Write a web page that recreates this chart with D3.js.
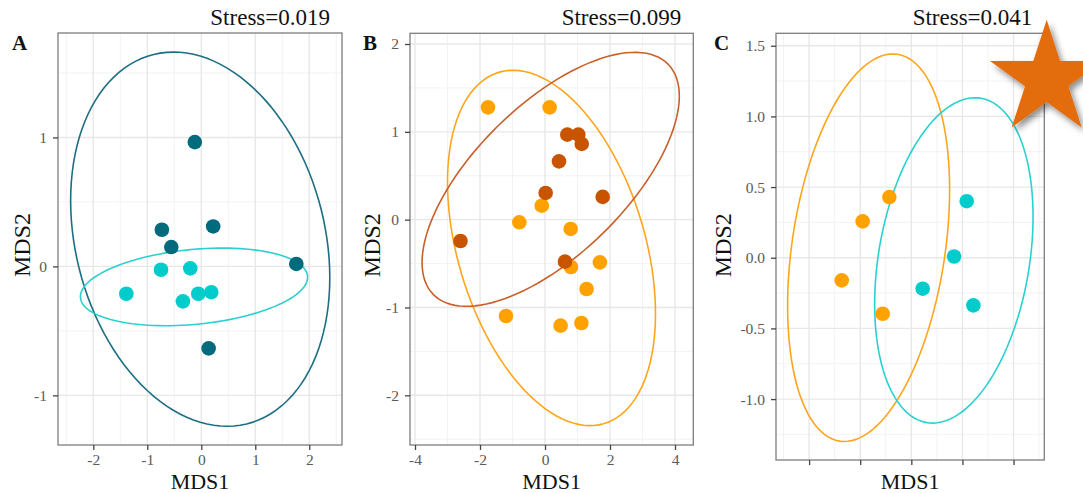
<!DOCTYPE html>
<html><head><meta charset="utf-8">
<script src="https://cdn.jsdelivr.net/npm/d3@7"></script>
<style>
html,body{margin:0;padding:0;background:#fff;}
svg{display:block;}
</style></head>
<body>
<svg id="chart" width="1083" height="493"></svg>
<script>
// ---------------- DATA ----------------
// Panel A (two groups)
const aDarkX = [-0.12, -0.73, 0.22, -0.556, 1.76, 0.136];
const aDarkY = [0.964, 0.284, 0.31, 0.15, 0.019, -0.636];
const aCyanX = [-0.746, -0.204, -1.389, -0.34, -0.056, 0.185];
const aCyanY = [-0.026, -0.015, -0.212, -0.271, -0.212, -0.20];
// Panel B
const bLightX = [-1.754, 0.144, -0.10, -0.79, 0.79, 0.80, 1.69, 1.28, -1.20, 0.48, 1.12];
const bLightY = [1.279, 1.279, 0.159, -0.03, -0.106, -0.539, -0.486, -0.79, -1.097, -1.207, -1.177];
const bDarkX = [0.687, 1.026, 1.13, 0.43, 0.02, 1.775, -2.60, 0.615];
const bDarkY = [0.968, 0.968, 0.862, 0.664, 0.304, 0.259, -0.243, -0.478];
// Panel C
const cOrangeX = [-0.215, -0.476, -0.681, -0.28];
const cOrangeY = [0.429, 0.257, -0.16, -0.396];
const cCyanX = [0.542, 0.418, 0.111, 0.607];
const cCyanY = [0.40, 0.009, -0.219, -0.337];
// Ellipses: [centerX, centerY, spreadX, spreadY, correlation]
const ellA_dark = [-0.02, 0.211, 2.40, 1.451, -0.206];
const ellA_cyan = [-0.135, -0.159, 2.104, 0.301, 0.25];
const ellB_light = [0.20, -0.322, 3.20, 2.023, -0.37];
const ellB_dark = [0.175, 0.459, 3.958, 1.446, 0.655];
const ellC_orange = [-0.418, 0.071, 0.7926, 1.371, 0.30];
const ellC_cyan = [0.416, -0.019, 0.775, 1.151, 0.268];
// Tick values / labels
const aXTicks = [-2, -1, 0, 1, 2];
const aYTicks = [-1, 0, 1];
const bXTicks = [-4, -2, 0, 2, 4];
const bYTicks = [-2, -1, 0, 1, 2];
const cXTicks = [-1, -0.5, 0, 0.5, 1];
const cYTicks = [-1, -0.5, 0, 0.5, 1, 1.5];
const cYTickLabels = ["-1.0", "-0.5", "0.0", "0.5", "1.0", "1.5"];
const stressLabels = ["Stress=0.019", "Stress=0.099", "Stress=0.041"];
const panelLetters = ["A", "B", "C"];

// ---------------- COLORS ----------------
const colDarkTeal = "#006b7d", colDarkTealLine = "#1d6e82";
const colCyan = "#00cccc", colCyanLine = "#2bd0d0";
const colOrange = "#ffa200", colOrangeLine = "#ffa51c";
const colDarkOrange = "#c85400", colDarkOrangeLine = "#c9602a";

const svg = d3.select("#chart");
const FONT = "'Liberation Serif','Times New Roman',serif";

const defs = svg.append("defs");
const f = defs.append("filter").attr("id","shadow").attr("x","-30%").attr("y","-30%").attr("width","170%").attr("height","170%");
f.append("feDropShadow").attr("dx",3).attr("dy",4).attr("stdDeviation",3).attr("flood-color","#000").attr("flood-opacity",0.45);

const zip = (xs, ys) => xs.map((x, i) => [x, ys[i]]);

function minorTicks(ticks, domain) {
  const step = ticks[1] - ticks[0];
  const out = [];
  for (let v = ticks[0] - step / 2; v <= domain[1] + 1e-9; v += step) {
    if (v >= domain[0] - 1e-9) out.push(v);
  }
  return out;
}

function ellipsePoints(e) {
  const [cx, cy, sx, sy, r] = e;
  const pts = [];
  const q = Math.sqrt(1 - r * r);
  for (let i = 0; i < 120; i++) {
    const t = (i / 120) * 2 * Math.PI;
    pts.push([cx + sx * Math.cos(t), cy + sy * (r * Math.cos(t) + q * Math.sin(t))]);
  }
  return pts;
}

function panel(cfg) {
  const x = d3.scaleLinear().domain(cfg.xd).range([cfg.l, cfg.r]);
  const y = d3.scaleLinear().domain(cfg.yd).range([cfg.b, cfg.t]);
  const g = svg.append("g");
  const clipId = "clip" + cfg.id;
  defs.append("clipPath").attr("id", clipId).append("rect")
    .attr("x", cfg.l).attr("y", cfg.t).attr("width", cfg.r - cfg.l).attr("height", cfg.b - cfg.t);

  // grid
  const grid = g.append("g");
  grid.selectAll(".mx").data(minorTicks(cfg.xt, cfg.xd)).join("line")
    .attr("x1", d => x(d)).attr("x2", d => x(d)).attr("y1", cfg.t).attr("y2", cfg.b)
    .attr("stroke", "#f3f3f3").attr("stroke-width", 1);
  grid.selectAll(".my").data(minorTicks(cfg.yt, cfg.yd)).join("line")
    .attr("y1", d => y(d)).attr("y2", d => y(d)).attr("x1", cfg.l).attr("x2", cfg.r)
    .attr("stroke", "#f3f3f3").attr("stroke-width", 1);
  grid.selectAll(".Mx").data(cfg.xt).join("line")
    .attr("x1", d => x(d)).attr("x2", d => x(d)).attr("y1", cfg.t).attr("y2", cfg.b)
    .attr("stroke", "#e8e8e8").attr("stroke-width", 1.4);
  grid.selectAll(".My").data(cfg.yt).join("line")
    .attr("y1", d => y(d)).attr("y2", d => y(d)).attr("x1", cfg.l).attr("x2", cfg.r)
    .attr("stroke", "#e8e8e8").attr("stroke-width", 1.4);

  // ellipses
  const line = d3.line().x(d => x(d[0])).y(d => y(d[1])).curve(d3.curveLinearClosed);
  const eg = g.append("g").attr("clip-path", `url(#${clipId})`);
  cfg.ells.forEach(e => {
    eg.append("path").attr("d", line(ellipsePoints(e.p))).attr("fill", "none")
      .attr("stroke", e.c).attr("stroke-width", 1.6);
  });
  // points
  cfg.pts.forEach(s => {
    g.append("g").selectAll("circle").data(s.d).join("circle")
      .attr("cx", d => x(d[0])).attr("cy", d => y(d[1])).attr("r", 7.3).attr("fill", s.c);
  });

  // border
  g.append("rect").attr("x", cfg.l).attr("y", cfg.t).attr("width", cfg.r - cfg.l).attr("height", cfg.b - cfg.t)
    .attr("fill", "none").attr("stroke", "#7d7d7d").attr("stroke-width", 1.3);

  // axes
  const ax = g.append("g").attr("transform", `translate(0,${cfg.b})`)
    .call(d3.axisBottom(x).tickValues(cfg.xt).tickSize(5).tickPadding(4).tickFormat(cfg.xf));
  const ay = g.append("g").attr("transform", `translate(${cfg.l},0)`)
    .call(d3.axisLeft(y).tickValues(cfg.yt).tickSize(5).tickPadding(6).tickFormat(cfg.yf));
  [ax, ay].forEach(a => {
    a.select(".domain").remove();
    a.selectAll(".tick line").attr("stroke", "#444").attr("stroke-width", 1.3);
    a.selectAll(".tick text").attr("fill", "#5a5a5a").style("font-family", FONT).style("font-size", "15.5px");
  });

  // titles
  g.append("text").attr("x", (cfg.l + cfg.r) / 2).attr("y", 489).attr("text-anchor", "middle")
    .style("font-family", FONT).style("font-size", "22px").attr("fill", "#111").text("MDS1");
  g.append("text").attr("transform", `translate(${cfg.ylx},${(cfg.t + 445) / 2 + 6}) rotate(-90)`)
    .attr("text-anchor", "middle").style("font-family", FONT).style("font-size", "24px").attr("fill", "#111").text("MDS2");
  g.append("text").attr("x", cfg.r - 12).attr("y", 24.5).attr("text-anchor", "end")
    .style("font-family", FONT).style("font-size", "23px").attr("fill", "#111").text(cfg.stress);
  g.append("text").attr("x", cfg.lx).attr("y", 49.5)
    .style("font-family", FONT).style("font-size", "21px").style("font-weight", "bold").attr("fill", "#111").text(cfg.letter);
}

const plain = d => String(d);

panel({ id: "A", l: 58, r: 342, t: 33, b: 445, xd: [-2.654, 2.606], yd: [-1.385, 1.81],
  xt: aXTicks, yt: aYTicks, xf: plain, yf: plain, ylx: 30, lx: 12,
  stress: stressLabels[0], letter: panelLetters[0],
  ells: [{ p: ellA_dark, c: colDarkTealLine }, { p: ellA_cyan, c: colCyanLine }],
  pts: [{ d: zip(aDarkX, aDarkY), c: colDarkTeal }, { d: zip(aCyanX, aCyanY), c: colCyan }] });

panel({ id: "B", l: 410, r: 693.3, t: 33.3, b: 445, xd: [-4.154, 4.563], yd: [-2.566, 2.122],
  xt: bXTicks, yt: bYTicks, xf: plain, yf: plain, ylx: 380, lx: 363,
  stress: stressLabels[1], letter: panelLetters[1],
  ells: [{ p: ellB_light, c: colOrangeLine }, { p: ellB_dark, c: colDarkOrangeLine }],
  pts: [{ d: zip(bLightX, bLightY), c: colOrange }, { d: zip(bDarkX, bDarkY), c: colDarkOrange }] });

panel({ id: "C", l: 776, r: 1044.3, t: 33.3, b: 460, xd: [-1.324, 1.301], yd: [-1.431, 1.588],
  xt: cXTicks, yt: cYTicks, xf: () => "", yf: (d, i) => cYTickLabels[i], ylx: 731, lx: 714,
  stress: stressLabels[2], letter: panelLetters[2],
  ells: [{ p: ellC_orange, c: colOrangeLine }, { p: ellC_cyan, c: colCyanLine }],
  pts: [{ d: zip(cOrangeX, cOrangeY), c: colOrange }, { d: zip(cCyanX, cCyanY), c: colCyan }] });

// star decoration
svg.append("path")
  .attr("d", d3.symbol(d3.symbolStar).size(3990)())
  .attr("transform", "translate(1046.7,79.3)")
  .attr("fill", "#e36c0a")
  .attr("filter", "url(#shadow)");
</script>
</body></html>
